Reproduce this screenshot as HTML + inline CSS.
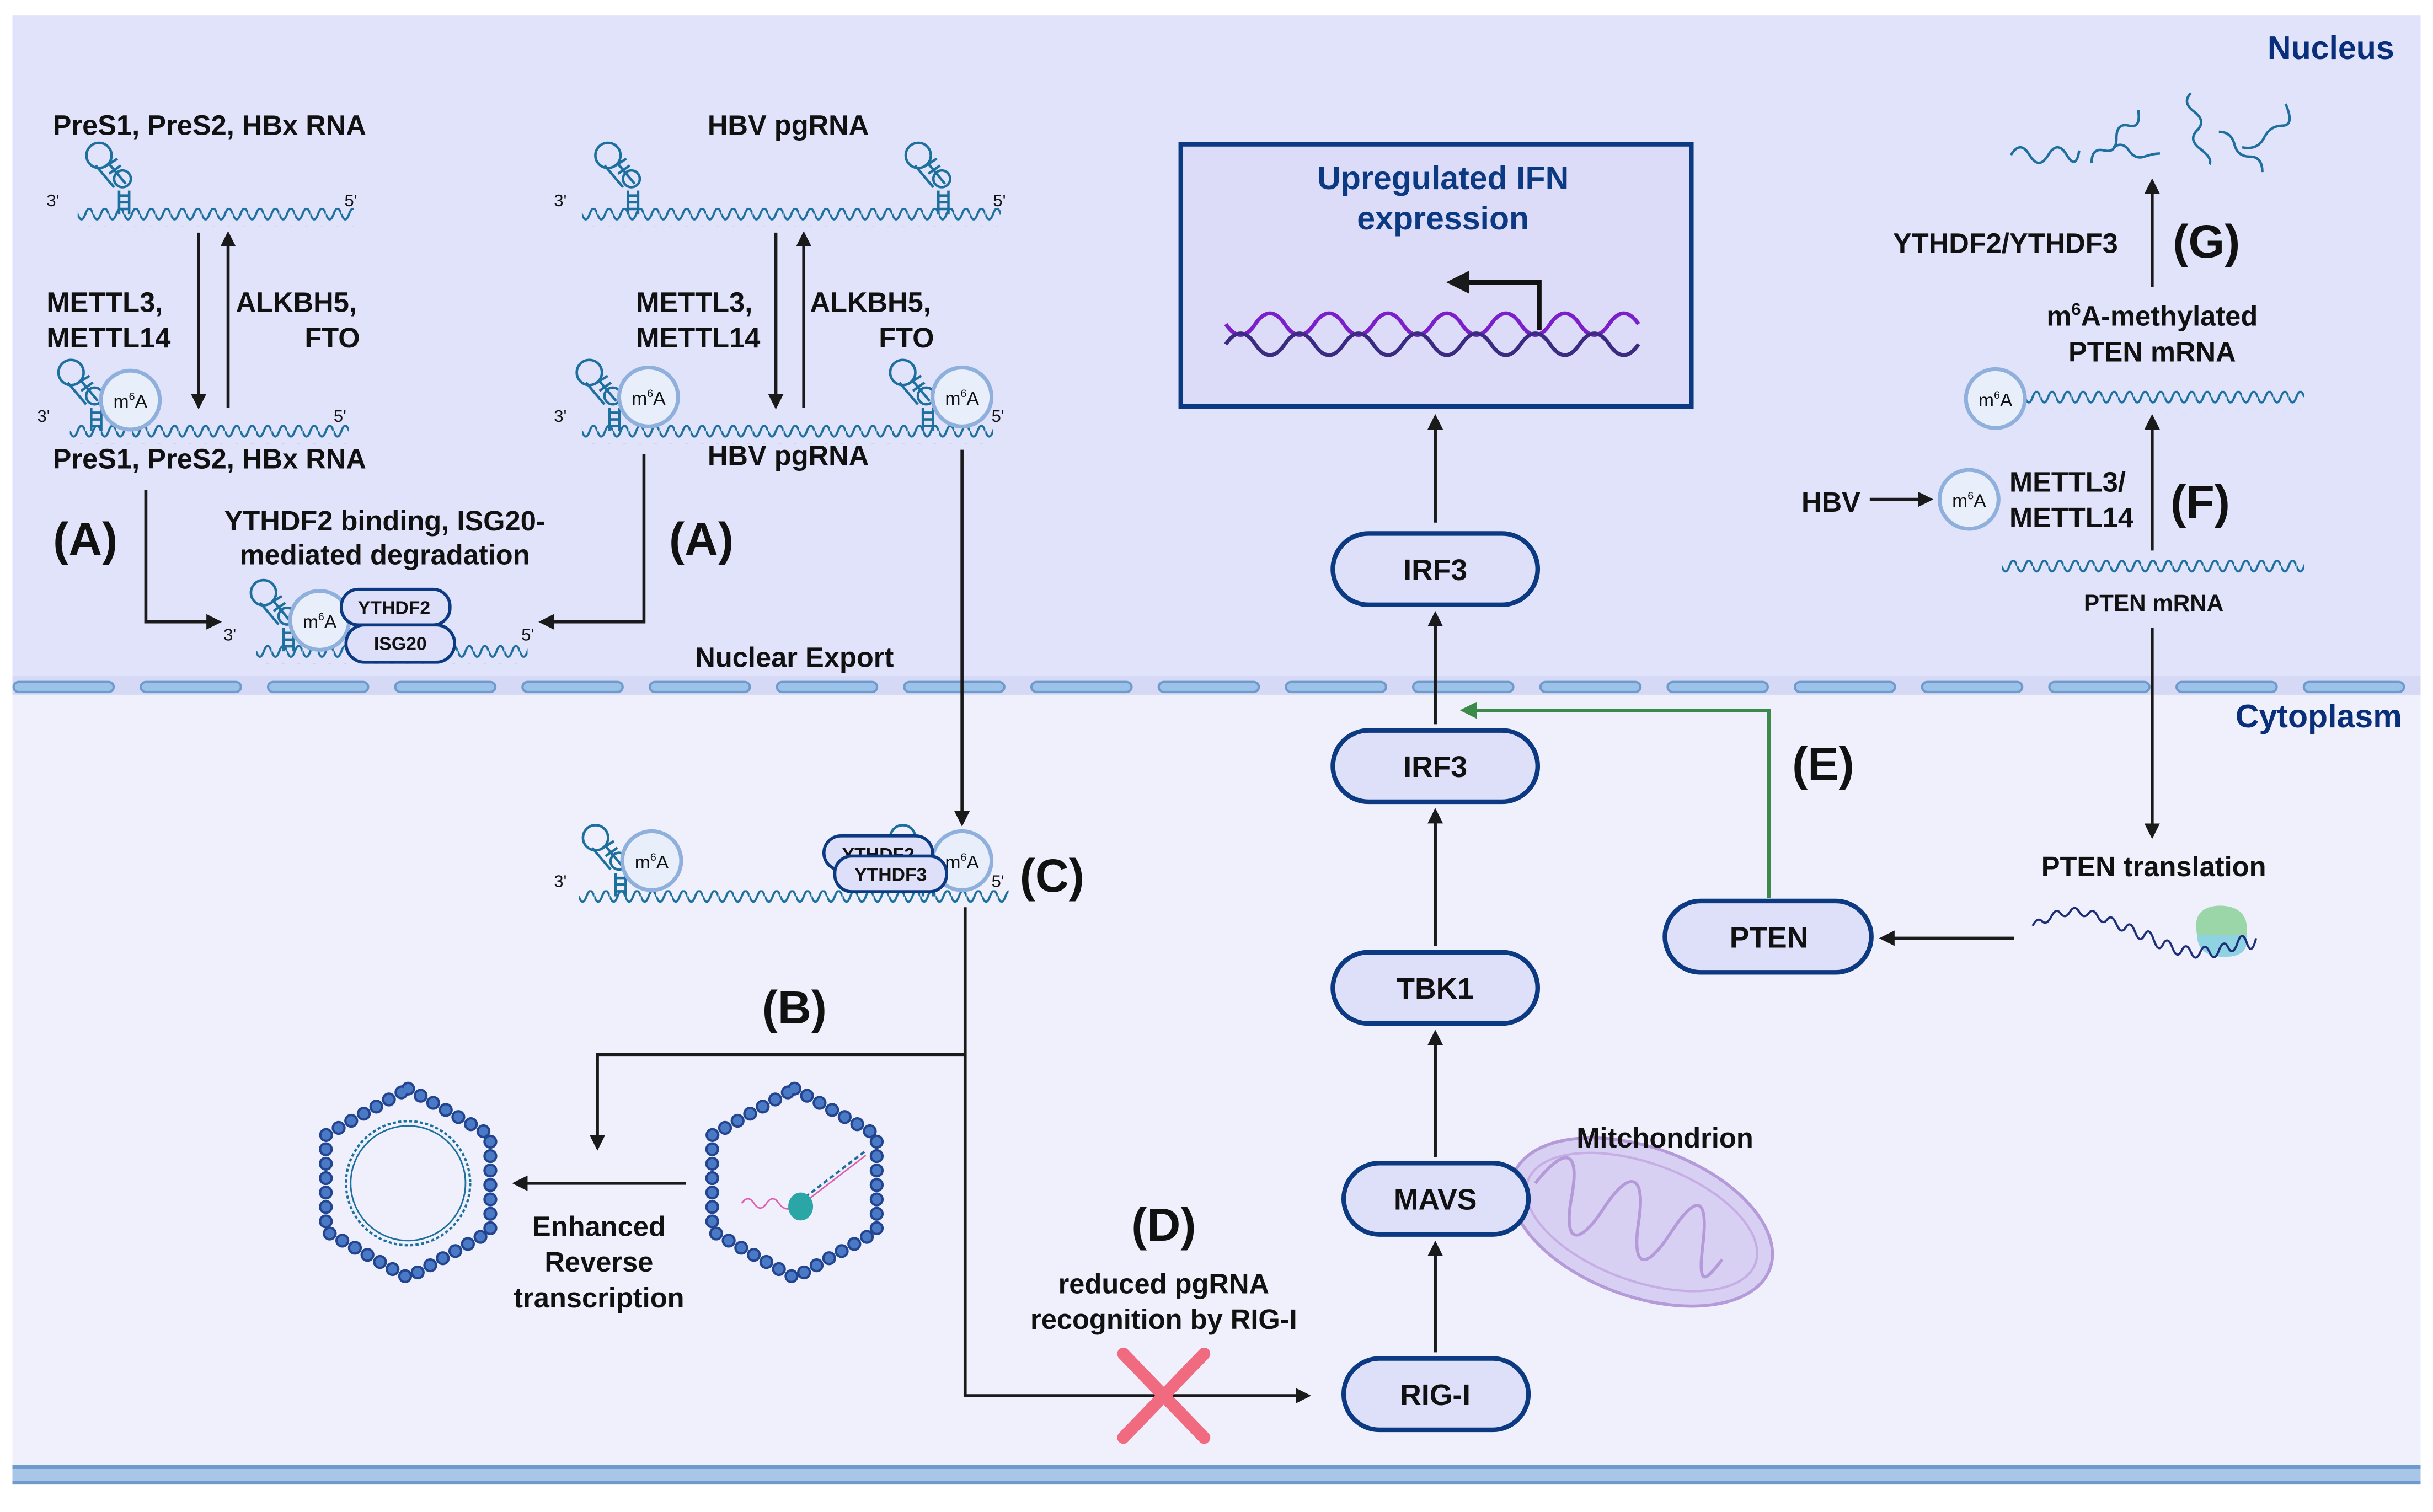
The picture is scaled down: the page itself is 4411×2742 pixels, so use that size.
<!DOCTYPE html>
<html><head><meta charset="utf-8"><style>
html,body{margin:0;padding:0;background:#fff}
svg{display:block}
text{font-family:"Liberation Sans",sans-serif;font-weight:bold;fill:#111}
</style></head><body>
<svg width="4411" height="2742" viewBox="0 0 1568 975" preserveAspectRatio="none" xmlns="http://www.w3.org/2000/svg">
<defs>
<pattern id="wv" width="10" height="12" patternUnits="userSpaceOnUse"><path d="M0 4 Q2.5 11 5 4 T10 4" fill="none" stroke="#1d6f9e" stroke-width="1.4"/></pattern>
<marker id="ah" viewBox="0 0 10 10" refX="8" refY="5" markerWidth="5" markerHeight="5" orient="auto"><path d="M0 0 L10 5 L0 10 z" fill="#1a1a1a"/></marker>
<marker id="ahg" viewBox="0 0 10 10" refX="8" refY="5" markerWidth="5" markerHeight="5" orient="auto"><path d="M0 0 L10 5 L0 10 z" fill="#3b8a4a"/></marker>
<g id="sl" fill="none" stroke="#1d6f9e" stroke-width="1.5" transform="scale(1.08)">
<circle cx="-15" cy="-35" r="7.5"/>
<path d="M-9 -30 L1 -18 M-17 -29 L-6 -16"/>
<circle cx="-1" cy="-21" r="5" />
<path d="M-3 -14 L-3 0 M3 -14 L3 0 M-3 -11 H3 M-3 -7 H3 M-3 -3 H3 M-12 -28 L-4 -33 M-9 -24 L-2 -29"/>
</g>
<g id="m6a"><circle r="19" fill="#e8eefa" stroke="#8fb0dc" stroke-width="2.5"/><text x="0" y="5" text-anchor="middle" font-size="12" style="font-weight:normal">m<tspan font-size="7" dy="-5">6</tspan><tspan dy="5">A</tspan></text></g>
</defs>
<rect x="0" y="0" width="1568" height="975" fill="#fff"/>
<rect x="8" y="10" width="1552" height="432" fill="#e0e3fa"/>
<rect x="8" y="442" width="1552" height="505" fill="#eff0fc"/>
<rect x="8" y="436" width="1552" height="12" fill="#d5d9f5"/>
<line x1="12" y1="443" x2="1560" y2="443" stroke="#6f9bcc" stroke-width="8" stroke-dasharray="58 24" stroke-linecap="round"/>
<line x1="12" y1="443" x2="1560" y2="443" stroke="#9cc2ea" stroke-width="5" stroke-dasharray="58 24" stroke-linecap="round"/>
<rect x="8" y="945" width="1552" height="12" fill="#a9c6e8"/>
<line x1="8" y1="946" x2="1560" y2="946" stroke="#6f9bcc" stroke-width="2.5"/>
<line x1="8" y1="956" x2="1560" y2="956" stroke="#6f9bcc" stroke-width="2.5"/>
<text x="1543" y="38" text-anchor="end" font-size="21" style="fill:#0a2f7a">Nucleus</text>
<text x="1548" y="469" text-anchor="end" font-size="21" style="fill:#0a2f7a">Cytoplasm</text>

<!-- left group -->
<text x="135" y="87" text-anchor="middle" font-size="18">PreS1, PreS2, HBx RNA</text>
<g transform="translate(50,134)"><rect width="178" height="12" fill="url(#wv)"/></g>
<use href="#sl" x="80" y="138"/>
<text x="30" y="133" font-size="11" style="font-weight:normal">3'</text>
<text x="222" y="133" font-size="11" style="font-weight:normal">5'</text>
<line x1="128" y1="150" x2="128" y2="262" stroke="#1a1a1a" stroke-width="2" marker-end="url(#ah)"/>
<line x1="147" y1="263" x2="147" y2="151" stroke="#1a1a1a" stroke-width="2" marker-end="url(#ah)"/>
<text x="30" y="201" font-size="18">METTL3,</text>
<text x="30" y="224" font-size="18">METTL14</text>
<text x="152" y="201" font-size="18">ALKBH5,</text>
<text x="232" y="224" text-anchor="end" font-size="18">FTO</text>
<g transform="translate(45,274)"><rect width="180" height="12" fill="url(#wv)"/></g>
<use href="#sl" x="62" y="278"/>
<use href="#m6a" x="84" y="258"/>
<text x="24" y="272" font-size="11" style="font-weight:normal">3'</text>
<text x="215" y="272" font-size="11" style="font-weight:normal">5'</text>
<text x="135" y="302" text-anchor="middle" font-size="18">PreS1, PreS2, HBx RNA</text>
<text x="55" y="358" text-anchor="middle" font-size="30">(A)</text>
<polyline points="94,316 94,401 141,401" fill="none" stroke="#1a1a1a" stroke-width="2" marker-end="url(#ah)"/>
<text x="248" y="342" text-anchor="middle" font-size="18">YTHDF2 binding, ISG20-</text>
<text x="248" y="364" text-anchor="middle" font-size="18">mediated degradation</text>
<g transform="translate(165,416)"><rect width="175" height="12" fill="url(#wv)"/></g>
<use href="#sl" x="186" y="420"/>
<use href="#m6a" x="206" y="400"/>
<rect x="220" y="380" width="70" height="23" rx="11" fill="#dde0f8" stroke="#0b3a82" stroke-width="2"/>
<text x="254" y="396" text-anchor="middle" font-size="12">YTHDF2</text>
<rect x="223" y="403" width="70" height="24" rx="12" fill="#dde0f8" stroke="#0b3a82" stroke-width="2"/>
<text x="258" y="419" text-anchor="middle" font-size="12">ISG20</text>
<text x="144" y="413" font-size="11" style="font-weight:normal">3'</text>
<text x="336" y="413" font-size="11" style="font-weight:normal">5'</text>

<!-- right group -->
<text x="508" y="87" text-anchor="middle" font-size="18">HBV pgRNA</text>
<g transform="translate(375,134)"><rect width="270" height="12" fill="url(#wv)"/></g>
<use href="#sl" x="408" y="138"/>
<use href="#sl" x="608" y="138"/>
<text x="357" y="133" font-size="11" style="font-weight:normal">3'</text>
<text x="640" y="133" font-size="11" style="font-weight:normal">5'</text>
<line x1="500" y1="150" x2="500" y2="262" stroke="#1a1a1a" stroke-width="2" marker-end="url(#ah)"/>
<line x1="518" y1="263" x2="518" y2="151" stroke="#1a1a1a" stroke-width="2" marker-end="url(#ah)"/>
<text x="410" y="201" font-size="18">METTL3,</text>
<text x="410" y="224" font-size="18">METTL14</text>
<text x="522" y="201" font-size="18">ALKBH5,</text>
<text x="602" y="224" text-anchor="end" font-size="18">FTO</text>
<g transform="translate(375,274)"><rect width="265" height="12" fill="url(#wv)"/></g>
<use href="#sl" x="396" y="278"/>
<use href="#sl" x="598" y="278"/>
<use href="#m6a" x="418" y="256"/>
<use href="#m6a" x="620" y="256"/>
<text x="357" y="272" font-size="11" style="font-weight:normal">3'</text>
<text x="639" y="272" font-size="11" style="font-weight:normal">5'</text>
<text x="508" y="300" text-anchor="middle" font-size="18">HBV pgRNA</text>
<text x="452" y="358" text-anchor="middle" font-size="30">(A)</text>
<polyline points="415,293 415,401 349,401" fill="none" stroke="#1a1a1a" stroke-width="2" marker-end="url(#ah)"/>
<line x1="620" y1="290" x2="620" y2="531" stroke="#1a1a1a" stroke-width="2" marker-end="url(#ah)"/>
<text x="512" y="430" text-anchor="middle" font-size="18">Nuclear Export</text>

<!-- C group -->
<g transform="translate(373,574)"><rect width="277" height="12" fill="url(#wv)"/></g>
<use href="#sl" x="400" y="578"/>
<use href="#sl" x="598" y="578"/>
<use href="#m6a" x="420" y="555"/>
<use href="#m6a" x="620" y="555"/>
<rect x="531" y="539" width="70" height="22" rx="11" fill="#dde0f8" stroke="#0b3a82" stroke-width="2"/>
<text x="566" y="555" text-anchor="middle" font-size="12">YTHDF2</text>
<rect x="538" y="552" width="72" height="23" rx="11" fill="#dde0f8" stroke="#0b3a82" stroke-width="2"/>
<text x="574" y="568" text-anchor="middle" font-size="12">YTHDF3</text>
<text x="357" y="572" font-size="11" style="font-weight:normal">3'</text>
<text x="639" y="572" font-size="11" style="font-weight:normal">5'</text>
<text x="678" y="575" text-anchor="middle" font-size="30">(C)</text>
<polyline points="622,585 622,900 843,900" fill="none" stroke="#1a1a1a" stroke-width="2" marker-end="url(#ah)"/>
<polyline points="622,680 385,680 385,740" fill="none" stroke="#1a1a1a" stroke-width="2" marker-end="url(#ah)"/>
<text x="512" y="660" text-anchor="middle" font-size="30">(B)</text>

<!-- capsids -->
<g fill="none">
<polygon points="263,702 316,732 316,794 263,824 210,794 210,732" stroke="#23458f" stroke-width="9" stroke-dasharray="0 9.3" stroke-linecap="round"/>
<polygon points="263,702 316,732 316,794 263,824 210,794 210,732" stroke="#4a79c6" stroke-width="6" stroke-dasharray="0 9.3" stroke-linecap="round"/>
<circle cx="263" cy="763" r="40" stroke="#1d6f9e" stroke-width="1.5" stroke-dasharray="2 1.5"/>
<circle cx="263" cy="763" r="37" stroke="#1d6f9e" stroke-width="1"/>
<polygon points="512,702 565,732 565,794 512,824 459,794 459,732" stroke="#23458f" stroke-width="9" stroke-dasharray="0 9.3" stroke-linecap="round"/>
<polygon points="512,702 565,732 565,794 512,824 459,794 459,732" stroke="#4a79c6" stroke-width="6" stroke-dasharray="0 9.3" stroke-linecap="round"/>
<path d="M478 776 q4 -6 8 0 t8 0 t8 0 t12 2" stroke="#e060b0" stroke-width="1"/>
<path d="M515 775 L558 742" stroke="#1d6f9e" stroke-width="1.5" stroke-dasharray="3 2"/>
<path d="M515 778 L558 745" stroke="#e060b0" stroke-width="1"/>
</g>
<ellipse cx="516" cy="778" rx="8" ry="9" fill="#2aa6a6"/>
<line x1="442" y1="763" x2="332" y2="763" stroke="#1a1a1a" stroke-width="2" marker-end="url(#ah)"/>
<text x="386" y="797" text-anchor="middle" font-size="18">Enhanced</text>
<text x="386" y="820" text-anchor="middle" font-size="18">Reverse</text>
<text x="386" y="843" text-anchor="middle" font-size="18">transcription</text>

<text x="750" y="800" text-anchor="middle" font-size="30">(D)</text>
<text x="750" y="834" text-anchor="middle" font-size="18">reduced pgRNA</text>
<text x="750" y="857" text-anchor="middle" font-size="18">recognition by RIG-I</text>
<path d="M724 873 L776 927 M776 873 L724 927" stroke="#f06a80" stroke-width="8" stroke-linecap="round"/>

<!-- mitochondrion -->
<g transform="rotate(20 1058 788)">
<ellipse cx="1058" cy="788" rx="88" ry="48" fill="#d8d0f2" stroke="#b49ad8" stroke-width="2"/>
<ellipse cx="1058" cy="788" rx="78" ry="38" fill="none" stroke="#c4aee4" stroke-width="1.5"/>
<path d="M985 788 c10 -30 20 -30 25 0 s15 30 22 0 s18 -30 24 0 s15 30 22 0 s15 -30 22 0 s10 20 15 5" fill="none" stroke="#b49ad8" stroke-width="2"/>
</g>
<text x="1073" y="740" text-anchor="middle" font-size="18">Mitchondrion</text>

<!-- pills -->
<g fill="#dde0f8" stroke="#0b3a82" stroke-width="3">
<rect x="859" y="344" width="132" height="46" rx="23"/>
<rect x="859" y="471" width="132" height="46" rx="23"/>
<rect x="859" y="614" width="132" height="46" rx="23"/>
<rect x="866" y="750" width="119" height="46" rx="23"/>
<rect x="866" y="876" width="119" height="46" rx="23"/>
<rect x="1073" y="581" width="133" height="46" rx="23"/>
</g>
<text x="925" y="374" text-anchor="middle" font-size="19">IRF3</text>
<text x="925" y="501" text-anchor="middle" font-size="19">IRF3</text>
<text x="925" y="644" text-anchor="middle" font-size="19">TBK1</text>
<text x="925" y="780" text-anchor="middle" font-size="19">MAVS</text>
<text x="925" y="906" text-anchor="middle" font-size="19">RIG-I</text>
<text x="1140" y="611" text-anchor="middle" font-size="19">PTEN</text>
<g stroke="#1a1a1a" stroke-width="2" marker-end="url(#ah)">
<line x1="925" y1="872" x2="925" y2="802"/>
<line x1="925" y1="746" x2="925" y2="666"/>
<line x1="925" y1="610" x2="925" y2="523"/>
<line x1="925" y1="467" x2="925" y2="396"/>
<line x1="925" y1="337" x2="925" y2="269"/>
<line x1="1298" y1="605" x2="1213" y2="605"/>
<line x1="1387" y1="405" x2="1387" y2="539"/>
<line x1="1205" y1="322" x2="1244" y2="322"/>
<line x1="1387" y1="355" x2="1387" y2="269"/>
<line x1="1387" y1="185" x2="1387" y2="117"/>
</g>
<polyline points="1140,579 1140,458 943,458" fill="none" stroke="#3b8a4a" stroke-width="2.2" marker-end="url(#ahg)"/>
<text x="1175" y="503" text-anchor="middle" font-size="30">(E)</text>

<!-- IFN box -->
<rect x="761" y="93" width="329" height="169" fill="#dcdcf8" stroke="#0b3a82" stroke-width="3"/>
<text x="930" y="122" text-anchor="middle" font-size="21" style="fill:#0b3a82">Upregulated IFN</text>
<text x="930" y="148" text-anchor="middle" font-size="21" style="fill:#0b3a82">expression</text>
<path d="M790 209 q9.5 14 19 0 t19 0 t19 0 t19 0 t19 0 t19 0 t19 0 t19 0 t19 0 t19 0 t19 0 t19 0 t19 0 t19 0" fill="none" stroke="#7a1fc9" stroke-width="2.5"/>
<path d="M790 222 q9.5 -14 19 0 t19 0 t19 0 t19 0 t19 0 t19 0 t19 0 t19 0 t19 0 t19 0 t19 0 t19 0 t19 0 t19 0" fill="none" stroke="#3a2a80" stroke-width="2.5"/>
<polyline points="992,213 992,182 935,182" fill="none" stroke="#111" stroke-width="3" marker-end="url(#ah)"/>

<!-- right nucleus -->
<g fill="none" stroke="#1d6f9e" stroke-width="1.6">
<path d="M1296 100 q6 -10 12 0 t12 0 t12 0 t8 -3"/>
<path d="M1348 105 q0 -10 8 -8 t8 -8 t8 -8 t6 -10"/>
<path d="M1362 95 q6 -4 10 2 t10 4 t10 -2"/>
<path d="M1412 60 q-6 6 2 12 t2 12 t2 12 t6 10"/>
<path d="M1430 85 q8 0 10 8 t10 8 t8 10"/>
<path d="M1445 95 q10 2 14 -6 t12 -8 t2 -14"/>
</g>
<text x="1220" y="163" font-size="18">YTHDF2/YTHDF3</text>
<text x="1422" y="166" text-anchor="middle" font-size="30">(G)</text>
<text x="1387" y="210" text-anchor="middle" font-size="18">m<tspan font-size="11" dy="-7">6</tspan><tspan dy="7">A-methylated</tspan></text>
<text x="1387" y="233" text-anchor="middle" font-size="18">PTEN mRNA</text>
<g transform="translate(1305,252)"><rect width="180" height="12" fill="url(#wv)"/></g>
<use href="#m6a" x="1286" y="257"/>
<text x="1180" y="330" text-anchor="middle" font-size="18">HBV</text>
<use href="#m6a" x="1269" y="322"/>
<text x="1295" y="317" font-size="18">METTL3/</text>
<text x="1295" y="340" font-size="18">METTL14</text>
<text x="1418" y="334" text-anchor="middle" font-size="30">(F)</text>
<g transform="translate(1290,361)"><rect width="195" height="12" fill="url(#wv)"/></g>
<text x="1388" y="394" text-anchor="middle" font-size="15">PTEN mRNA</text>
<text x="1388" y="565" text-anchor="middle" font-size="18">PTEN translation</text>
<path d="M1416 603 q0 14 18 14 q16 0 14 -14 z" fill="#8fd3e2"/>
<path d="M1416 603 q-4 -18 14 -19 q20 0 18 19 z" fill="#9ad6a8"/>
<path d="M1310 597 q3 -6 6 -3 t6 -3 t6 -2 t6 -1 t6 0 t6 1 t6 2 t6 2 t6 3 t6 2 t6 3 t6 2 t6 3 t6 3 t6 2 t6 2 t6 1 t6 0 t6 0 t6 -1 t6 -2 t6 -3 t6 0 t6 -3" fill="none" stroke="#1d2f7a" stroke-width="1.4"/>
</svg>
</body></html>
